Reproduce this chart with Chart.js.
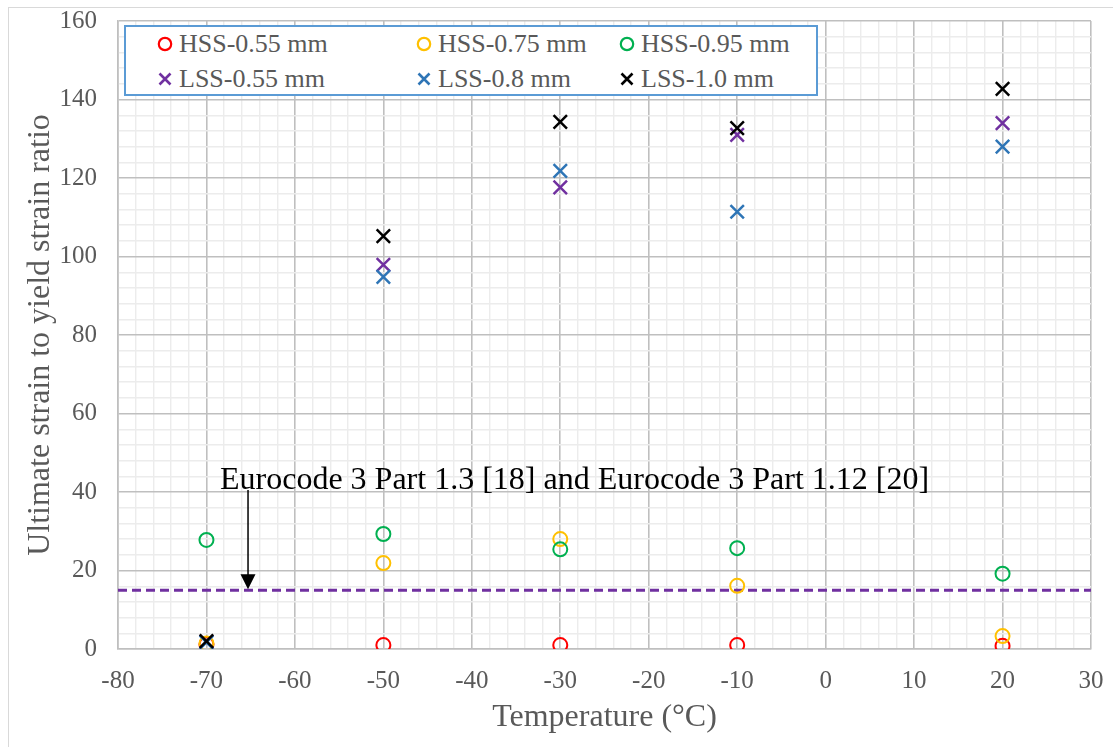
<!DOCTYPE html>
<html>
<head>
<meta charset="utf-8">
<script src="https://cdn.jsdelivr.net/npm/chart.js@4/dist/chart.umd.min.js"></script>
<style>
  html, body { margin: 0; padding: 0; background: #fff; }
  #wrap { position: relative; width: 1113px; height: 747px; overflow: hidden;
          font-family: "Liberation Serif", "Times New Roman", serif; }
  #frame { position: absolute; left: 8px; top: 7px; width: 1300px; height: 900px;
           border: 1px solid #d9d9d9; box-sizing: border-box; }
  #chart { position: absolute; left: 0; top: 0; }
  #legend { position: absolute; left: 124px; top: 25px; width: 694px; height: 71px;
            border: 2px solid #5b9bd5; background: #fff; box-sizing: border-box; }
  .item { position: absolute; height: 30px; line-height: 30px; font-size: 26px;
          color: #595959; white-space: nowrap; }
  .item svg { position: absolute; top: 7px; }
  .item span { position: absolute; }
  #note { position: absolute; left: 220px; top: 460px; font-size: 32px; line-height: 36px;
          color: #000; white-space: nowrap; }
</style>
</head>
<body>
<div id="wrap">
  <div id="frame"></div>
  <canvas id="chart" width="1113" height="747"></canvas>
  <div id="legend"></div>
  <div id="note">Eurocode 3 Part 1.3 [18] and Eurocode 3 Part 1.12 [20]</div>
</div>
<script>
// temperatures (°C)
const temps = [-70, -50, -30, -10, 20];

// ultimate strain / yield strain ratio
const hss055 = [1.2, 1.0, 1.0, 1.0, 0.8];
const hss075 = [1.4, 21.9, 28.0, 16.1, 3.3];
const hss095 = [27.8, 29.3, 25.4, 25.7, 19.2];
const lss055 = [1.8, 97.9, 117.6, 131.0, 134.0];
const lss08 = [1.7, 94.8, 121.8, 111.4, 128.0];
const lss10 = [2.0, 105.2, 134.3, 132.7, 142.7];

const seriesNames = ['HSS-0.55 mm', 'HSS-0.75 mm', 'HSS-0.95 mm', 'LSS-0.55 mm', 'LSS-0.8 mm', 'LSS-1.0 mm'];
const seriesValues = [hss055, hss075, hss095, lss055, lss08, lss10];
const seriesColors = ['#ff0000', '#ffc000', '#00b050', '#7030a0', '#2e75b6', '#000000'];
const seriesMarkers = ['circle', 'circle', 'circle', 'crossRot', 'crossRot', 'crossRot'];

// Eurocode limit line and arrow
const ec3Limit = 15;
const limitRange = [-80, 30];
const arrowX = -65.3;
const arrowTop = 40.5;

const xTicks = { min: -80, max: 30, major: 10, minor: 2 };
const yTicks = { min: 0, max: 160, major: 20, minor: 4 };

const FONT = "'Liberation Serif', 'Times New Roman', serif";
const GREY = '#595959';
Chart.defaults.font.family = FONT;

const datasets = seriesNames.map((name, i) => ({
  type: 'scatter',
  label: name,
  data: temps.map((t, k) => ({ x: t, y: seriesValues[i][k] })),
  pointStyle: seriesMarkers[i],
  pointRadius: seriesMarkers[i] === 'circle' ? 7 : 9.5,
  pointBorderWidth: seriesMarkers[i] === 'circle' ? 2 : 2.5,
  borderColor: seriesColors[i],
  backgroundColor: 'rgba(0,0,0,0)',
  order: seriesNames.length - i
}));

datasets.push({
  type: 'line',
  label: 'EC3',
  data: limitRange.map(x => ({ x: x, y: ec3Limit })),
  borderColor: '#7030a0',
  borderWidth: 3,
  borderDash: [9, 5],
  pointRadius: 0,
  order: 10
});

// arrow pointing at the limit line
const arrowPlugin = {
  id: 'ec3Arrow',
  afterDatasetsDraw(chart) {
    const { ctx, scales: { x, y } } = chart;
    const px = x.getPixelForValue(arrowX);
    const top = y.getPixelForValue(arrowTop);
    const tip = y.getPixelForValue(ec3Limit);
    ctx.save();
    ctx.strokeStyle = '#000';
    ctx.fillStyle = '#000';
    ctx.lineWidth = 1.5;
    ctx.beginPath();
    ctx.moveTo(px, top);
    ctx.lineTo(px, tip - 14);
    ctx.stroke();
    ctx.beginPath();
    ctx.moveTo(px - 7.5, tip - 16);
    ctx.lineTo(px + 7.5, tip - 16);
    ctx.lineTo(px, tip - 1);
    ctx.closePath();
    ctx.fill();
    ctx.restore();
  }
};

function gridColor(major) {
  return ctx => (Math.round(ctx.tick.value) % major === 0 ? '#bfbfbf' : '#ececec');
}
function gridWidth(major) {
  return ctx => (Math.round(ctx.tick.value) % major === 0 ? 1.6 : 1.4);
}

new Chart(document.getElementById('chart').getContext('2d'), {
  data: { datasets: datasets },
  options: {
    responsive: false,
    animation: false,
    layout: { padding: { top: 21, right: 22, left: 0, bottom: 0 } },
    plugins: { legend: { display: false }, tooltip: { enabled: false } },
    scales: {
      x: {
        type: 'linear',
        min: xTicks.min,
        max: xTicks.max,
        afterFit: s => { s.height = 98; s.paddingLeft = 0; s.paddingRight = 0; },
        ticks: {
          stepSize: xTicks.minor,
          autoSkip: false,
          maxRotation: 0,
          padding: 17,
          color: GREY,
          font: { family: FONT, size: 25 },
          callback: v => (Math.round(v) % xTicks.major === 0 ? String(Math.round(v)) : '')
        },
        grid: { color: gridColor(xTicks.major), lineWidth: gridWidth(xTicks.major), drawTicks: false },
        border: { color: '#bfbfbf', width: 1.6 },
        title: {
          display: true,
          text: 'Temperature (°C)',
          color: GREY,
          font: { family: FONT, size: 32 },
          padding: { top: 0, bottom: 10 }
        }
      },
      y: {
        min: yTicks.min,
        max: yTicks.max,
        afterFit: s => { s.width = 118; s.paddingTop = 0; s.paddingBottom = 0; },
        ticks: {
          stepSize: yTicks.minor,
          autoSkip: false,
          padding: 21,
          color: GREY,
          font: { family: FONT, size: 25 },
          callback: v => (Math.round(v) % yTicks.major === 0 ? String(Math.round(v)) : '')
        },
        grid: { color: gridColor(yTicks.major), lineWidth: gridWidth(yTicks.major), drawTicks: false },
        border: { color: '#bfbfbf', width: 1.6 },
        title: {
          display: true,
          text: 'Ultimate strain to yield strain ratio',
          color: GREY,
          font: { family: FONT, size: 32 },
          padding: { top: 21, bottom: 0 }
        }
      }
    }
  },
  plugins: [arrowPlugin]
});

// legend inside the plot, three columns and two rows
const legend = document.getElementById('legend');
const colLeft = [31, 290, 493];
const rowTop = [2, 37];
seriesNames.forEach((name, i) => {
  const item = document.createElement('div');
  item.className = 'item';
  item.style.left = colLeft[i % 3] + 'px';
  item.style.top = rowTop[Math.floor(i / 3)] + 'px';
  const mark = seriesMarkers[i] === 'circle'
    ? '<circle cx="8" cy="8" r="6.2" fill="none" stroke="' + seriesColors[i] + '" stroke-width="2.2"/>'
    : '<path d="M2.5 2.5 L13.5 13.5 M13.5 2.5 L2.5 13.5" stroke="' + seriesColors[i] + '" stroke-width="2.6"/>';
  item.innerHTML = '<svg width="16" height="16" style="left:0">' + mark + '</svg><span style="left:22px">' + name + '</span>';
  legend.appendChild(item);
});
</script>
</body>
</html>
